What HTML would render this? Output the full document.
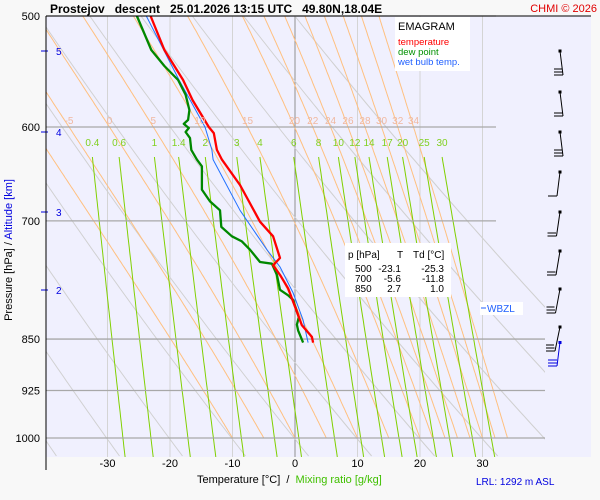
<!DOCTYPE html>
<html><head><meta charset="utf-8"><style>
body{margin:0;background:#f8f8f8;width:600px;height:500px;overflow:hidden;font-family:"Liberation Sans",sans-serif}
svg{display:block}
</style></head><body>
<svg id="c" width="600" height="500" xmlns="http://www.w3.org/2000/svg" font-family="Liberation Sans, sans-serif">
<rect x="0" y="0" width="600" height="500" fill="#f8f8f8"/>
<rect x="46" y="16" width="545" height="441" fill="#f0f0fe"/>
<defs><clipPath id="clip"><rect x="46" y="16" width="499" height="441"/></clipPath></defs>
<g id="grid" clip-path="url(#clip)"></g>
<g id="series"></g>
<g id="labels"></g>
<line x1="46" y1="16" x2="591" y2="16" stroke="#000" stroke-width="1"/>
<line x1="46" y1="16" x2="46" y2="470" stroke="#000" stroke-width="1"/>
<text x="50" y="13" font-size="12" font-weight="bold" fill="#000" xml:space="preserve">Prostejov   descent   25.01.2026 13:15 UTC   49.80N,18.04E</text>
<text x="597" y="12" font-size="11" fill="#e00000" text-anchor="end">CHMI © 2026</text>
<g>
<rect x="395" y="17" width="75" height="54" fill="#fff"/>
<text x="398" y="30" font-size="11" fill="#000">EMAGRAM</text>
<text x="398" y="45" font-size="9.5" fill="#ff0000">temperature</text>
<text x="398" y="55" font-size="9.5" fill="#009000">dew point</text>
<text x="398" y="65" font-size="9.5" fill="#2060ff">wet bulb temp.</text>
</g>
<g font-size="10" fill="#000">
<rect x="345" y="243" width="106" height="54" fill="#fff"/>
<text x="348" y="258">p [hPa]</text><text x="397" y="258">T</text><text x="413" y="258">Td [°C]</text>
<text x="355" y="272">500</text><text x="401" y="272" text-anchor="end">-23.1</text><text x="444" y="272" text-anchor="end">-25.3</text>
<text x="355" y="282">700</text><text x="401" y="282" text-anchor="end">-5.6</text><text x="444" y="282" text-anchor="end">-11.8</text>
<text x="355" y="292">850</text><text x="401" y="292" text-anchor="end">2.7</text><text x="444" y="292" text-anchor="end">1.0</text>
</g>
<g>
<rect x="480" y="302" width="43" height="13" fill="#fff"/>
<line x1="481" y1="308" x2="486" y2="308" stroke="#2060ff"/>
<text x="487" y="312" font-size="10" fill="#2060ff">WBZL</text>
</g>
<text transform="translate(12,250) rotate(-90)" font-size="11" text-anchor="middle"><tspan fill="#000">Pressure [hPa]  /  </tspan><tspan fill="#0000e0">Altitude [km]</tspan></text>
<text x="197" y="483" font-size="11" xml:space="preserve"><tspan fill="#000">Temperature [°C]  /  </tspan><tspan fill="#40c000">Mixing ratio [g/kg]</tspan></text>
<text x="476" y="485" font-size="10" fill="#0000e0">LRL: 1292 m ASL</text>
<g id="winds"></g>
</svg>
<script>
const NS="http://www.w3.org/2000/svg";
// ---- data ----
const pressureTicks=[500,600,700,850,925,1000];
const tempTicks=[-30,-20,-10,0,10,20,30];
const altTicks=[5,4,3,2];
const altY=[51,132,212,290];
const moistThetaW=[-10,-5,0,5,10,15,20,22,24,26,28,30,32,34];
const moistLabels=["-5","0","5","10","15","20","22","24","26","28","30","32","34"];
const mixRatios=[0.4,0.6,1,1.4,2,3,4,6,8,10,12,14,17,20,25,30];
const mixLabels=["0.4","0.6","1","1.4","2","3","4","6","8","10","12","14","17","20","25","30"];
const tempP=[500,528.7,555.4,574,600,606,623,633,660,701,718,744,753,765,782,806,831,847,855];
const tempT=[-23.1,-20.9,-17.9,-16.4,-13.8,-13.0,-12.5,-11.7,-8.8,-5.6,-3.5,-2.4,-3.5,-2.4,-1.1,0,1.1,2.7,2.9];
const dewP=[500,528.7,542.8,555.4,569,583.5,593,597,601,605,611,623,633,640,665,678,688,707,718,724,734,749,751,765,784,791,797,820,830,838,855];
const dewT=[-25.3,-23.0,-20.9,-18.7,-17.5,-16.9,-17.1,-17.8,-17.0,-17.5,-16.8,-16.6,-15.7,-14.9,-14.9,-13.6,-12.0,-11.8,-10.1,-8.5,-7.2,-5.6,-3.7,-2.9,-2.4,-1.1,-0.3,0.6,0.3,0.5,1.3];
const wbP=[500,555,600,623,633,688,734,755,788,824,855];
const wbT=[-23.8,-18.6,-14.4,-13.3,-13.1,-8.8,-4.5,-2.4,-0.3,1.3,2.1];
// ---- axes ----
const X=t=>295+6.25*t;
const Y=p=>16+608.8*Math.log(p/500);
const P=y=>500*Math.exp((y-16)/608.8);
const svg=document.getElementById('c');
const grid=document.getElementById('grid'),ser=document.getElementById('series'),lab=document.getElementById('labels');
function mk(tag,at,par){const e=document.createElementNS(NS,tag);for(const k in at)e.setAttribute(k,at[k]);par.appendChild(e);return e;}
function path(pts){return pts.map((q,i)=>(i?'L':'M')+q[0].toFixed(1)+' '+q[1].toFixed(1)).join(' ');}
// isotherms
tempTicks.forEach(t=>{
 const l=mk('line',{x1:X(t),y1:16,x2:X(t),y2:457,stroke:t===0?'#909090':'#d4d4d4','stroke-width':1},grid);
 
 
 const tx=mk('text',{x:X(t),y:467,'font-size':11,'text-anchor':'middle',fill:'#000'},lab);tx.textContent=t;
 
 
});
// dry adiabats
for(let th=193;th<=333;th+=10){
 const pts=[];for(let y=16;y<=457;y+=4){const p=P(y);pts.push([X(th*Math.pow(p/1000,0.286)-273.15),y]);}
 const e=mk('path',{d:path(pts),fill:'none',stroke:'#d0d0d0','stroke-width':1},grid);
 
 
}
// moist adiabats
function es(tc){return 6.112*Math.exp(17.67*tc/(tc+243.5));}
moistThetaW.forEach(tw=>{
 let T=tw+273.15,p=1000;const pts=[[X(tw),Y(1000)]];let t600=null;
 while(p>500){const dp=-2;const tc=T-273.15;const e=es(tc);const rs=0.622*e/(p-e);
  const dTdp=(1/p)*(287*T+2.5e6*rs)/(1004+2.5e6*2.5e6*rs*0.622/(287*T*T));
  T+=dTdp*dp;p+=dp;pts.push([X(T-273.15),Y(p)]);if(Math.abs(p-600)<1e-6)t600=T-273.15;}
 const e=mk('path',{d:path(pts),fill:'none',stroke:'#ffc080','stroke-width':1},grid);
 
 
 const i=moistThetaW.indexOf(tw)-1;
 if(i>=0&&t600!==null){const tx=mk('text',{x:X(t600),y:124,'font-size':10,'text-anchor':'middle',fill:'#f0b8a0'},lab);tx.textContent=moistLabels[i];
  
  }
});
// mixing ratio lines
function tw_of(w,p){const e=(w/1000)*p/(0.622+w/1000);const a=Math.log(e/6.112);return 243.5*a/(17.67-a);}
mixRatios.forEach((w,i)=>{
 const pts=[];for(let y=157;y<=457;y+=5){pts.push([X(tw_of(w,P(y))),y]);}
 const e=mk('path',{d:path(pts),fill:'none',stroke:'#80d000','stroke-width':1},grid);
 
 
 const tx=mk('text',{x:X(tw_of(w,P(157))),y:146,'font-size':10,'text-anchor':'middle',fill:'#80d020'},lab);tx.textContent=mixLabels[i];
 
 
});
// isobars
const isoG=document.createElementNS(NS,'g');svg.insertBefore(isoG,ser);
pressureTicks.forEach(p=>{
 const l=mk('line',{x1:46,y1:Y(p),x2:p>=850?545:496,y2:Y(p),stroke:'#a8a8a8','stroke-width':1.3},isoG);
 
 
 const tx=mk('text',{x:40,y:Y(p)+4,'font-size':11,'text-anchor':'end',fill:'#000'},lab);tx.textContent=p;
 
 
});
altTicks.forEach((a,i)=>{
 mk('line',{x1:41,y1:altY[i],x2:48,y2:altY[i],stroke:'#0000e0'},lab);
 const tx=mk('text',{x:56,y:altY[i]+4,'font-size':10,fill:'#0000e0'},lab);tx.textContent=a;
 
 
});
// series
function line(ps,ts,col,w,name){const e=mk('path',{d:path(ps.map((p,i)=>[X(ts[i]),Y(p)])),fill:'none',stroke:col,'stroke-width':w,'stroke-linejoin':'round'},ser);
 
 }
line(wbP,wbT,'#2070ff',1,'wet-bulb-line');
line(dewP,dewT,'#008800',2.3,'dew-point-line');
line(tempP,tempT,'#ff0000',2.3,'temperature-line');
// wind barbs
const windY=[51,92,132,172,212,251,289,327];
const windFl=[3,2,3,1,2,2,3,3];
const winds=document.getElementById('winds');
windY.forEach((y,i)=>{
 const g=mk('g',{stroke:'#000','stroke-width':1,fill:'none'},winds);
 
 
 const bx=i<3?563:557-(i-3)*0.5;
 mk('rect',{x:558.5,y:y-1.5,width:3,height:3,fill:'#000',stroke:'none'},g);
 mk('line',{x1:560,y1:y,x2:bx,y2:y+24},g);
 for(let k=0;k<windFl[i];k++){mk('line',{x1:bx-0.5*k,y1:y+24-3*k,x2:bx-9,y2:y+24-3*k},g);}
});
const gb=mk('g',{stroke:'#0000e0','stroke-width':1,fill:'none'},winds);


mk('rect',{x:558.5,y:341,width:3,height:3,fill:'#0000e0',stroke:'none'},gb);
mk('line',{x1:560,y1:342,x2:557,y2:366},gb);
for(let k=0;k<3;k++)mk('line',{x1:557,y1:366-3*k,x2:548,y2:366-3*k},gb);
</script>
</body></html>
